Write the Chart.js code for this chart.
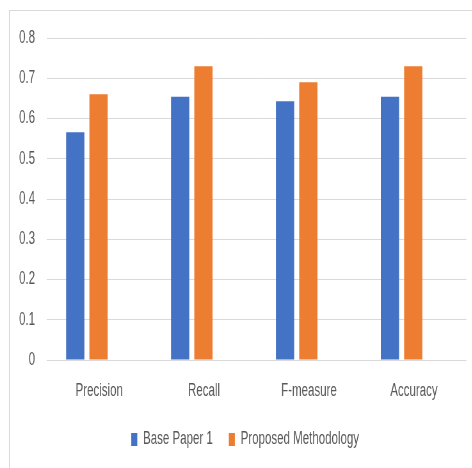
<!DOCTYPE html>
<html>
<head>
<meta charset="utf-8">
<script src="https://cdn.jsdelivr.net/npm/chart.js@4.4.1/dist/chart.umd.min.js"></script>
<style>
  html, body { margin: 0; padding: 0; background: #fff; }
  #wrap { position: relative; width: 472px; height: 468px; overflow: hidden; }
  #frame { position: absolute; left: 9px; top: 10px; width: 600px; height: 600px; border: 1px solid #d9d9d9; box-sizing: border-box; }
  #squeeze { position: absolute; left: 0; top: 0; transform-origin: 0 0; }
</style>
</head>
<body>
<div id="wrap">
  <div id="frame"></div>
  <div id="squeeze"><canvas id="c"></canvas></div>
</div>
<script>
const categories = ["Precision", "Recall", "F-measure", "Accuracy"];
const seriesNames = ["Base Paper 1", "Proposed Methodology"];
const basePaper = [0.566, 0.654, 0.643, 0.654];
const proposed = [0.660, 0.730, 0.690, 0.730];
const yTicks = [0, 0.1, 0.2, 0.3, 0.4, 0.5, 0.6, 0.7, 0.8];

// The reference chart is horizontally squeezed; draw wider and compress with CSS.
const SX = 0.64;
const W = Math.round(472 / SX), H = 468;
const u = px => px / SX; // convert on-screen horizontal px to canvas px

const canvas = document.getElementById('c');
canvas.width = W; canvas.height = H;
canvas.style.width = W + 'px'; canvas.style.height = H + 'px';
document.getElementById('squeeze').style.transform = 'scaleX(' + SX + ')';

const FONT = "'Liberation Sans', Arial, sans-serif";
const TEXT = '#595959';
const barShift = 0.117; // bar groups sit slightly left of the category labels in the reference

const toPoints = arr => arr.map((v, i) => ({ x: i, y: v }));

new Chart(canvas, {
  type: 'bar',
  data: {
    labels: categories,
    datasets: [
      { label: seriesNames[0], data: toPoints(basePaper), backgroundColor: '#4472C4', xAxisID: 'xb', yAxisID: 'y', categoryPercentage: 0.444, barPercentage: 0.785 },
      { label: seriesNames[1], data: toPoints(proposed), backgroundColor: '#ED7D31', xAxisID: 'xb', yAxisID: 'y', categoryPercentage: 0.444, barPercentage: 0.785 }
    ]
  },
  options: {
    responsive: false,
    animation: false,
    devicePixelRatio: 1,
    layout: { padding: { top: 38, right: 0, left: u(18), bottom: 9.5 } },
    scales: {
      x: {
        type: 'category',
        labels: categories,
        afterFit: s => { s.height = 45.5; },
        grid: { display: false, drawTicks: false },
        border: { display: false },
        ticks: { color: TEXT, font: { family: FONT, size: 18 }, padding: 20 }
      },
      xb: {
        type: 'linear',
        display: false,
        min: -0.5 + barShift,
        max: 3.5 + barShift,
        offset: false,
        afterBuildTicks: s => { s.ticks = categories.map((c, i) => ({ value: i })); }
      },
      y: {
        position: 'left',
        min: 0, max: 0.8,
        afterBuildTicks: s => { s.ticks = yTicks.map(v => ({ value: v })); },
        afterFit: s => { s.width = u(46.7 - 18); },
        grid: { color: '#d9d9d9', lineWidth: 1, drawTicks: false },
        border: { display: false },
        ticks: { color: TEXT, font: { family: FONT, size: 18 }, padding: u(11.7), callback: v => String(v) }
      },
      yr: {
        position: 'right',
        min: 0, max: 0.8,
        afterFit: s => { s.width = u(6); },
        grid: { display: false, drawTicks: false },
        border: { display: false },
        ticks: { display: false }
      }
    },
    plugins: {
      legend: {
        position: 'bottom',
        labels: { color: TEXT, font: { family: FONT, size: 18 }, boxWidth: u(6), boxHeight: 13, padding: u(16) }
      },
      tooltip: { enabled: false }
    }
  }
});
</script>
</body>
</html>
